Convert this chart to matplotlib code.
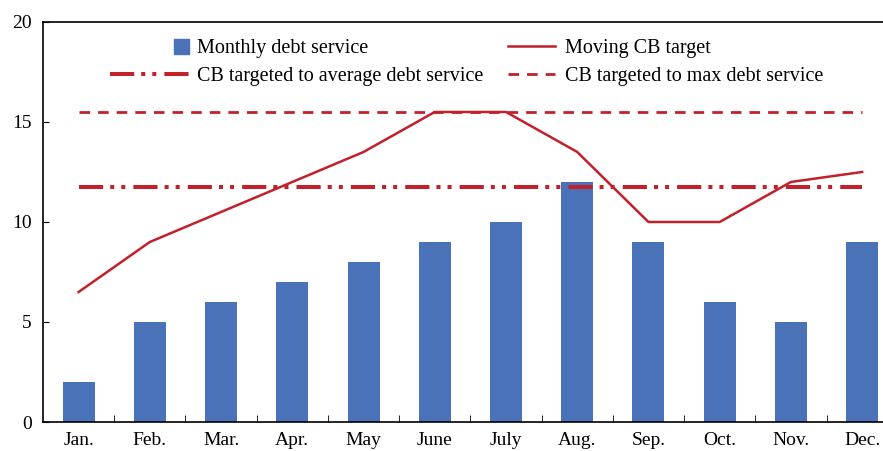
import numpy as np
import matplotlib
matplotlib.use("Agg")
import matplotlib.pyplot as plt
import matplotlib.patches as mpatches
from matplotlib.legend_handler import HandlerPatch

plt.rcParams['font.family'] = ['Liberation Serif', 'DejaVu Serif']

months = ['Jan.', 'Feb.', 'Mar.', 'Apr.', 'May', 'June', 'July', 'Aug.', 'Sep.', 'Oct.', 'Nov.', 'Dec.']
debt_service = [2, 5, 6, 7, 8, 9, 10, 12, 9, 6, 5, 9]
moving_target = [6.5, 9, 10.5, 12, 13.5, 15.5, 15.5, 13.5, 10, 10, 12, 12.5]
avg_target = [11.75] * 12
max_target = [15.5] * 12

blue = '#4a72b8'
red = '#c2202b'


def square_patch(legend, orig_handle, xdescent, ydescent, width, height, fontsize):
    # small square at the right end of the handle box, like the original
    s = height * 1.05
    return mpatches.Rectangle((-xdescent + width - s, -ydescent + (height - s) / 2), s, s)


fig = plt.figure(figsize=(8.83, 4.51), dpi=100)
ax = fig.add_axes([0.0487, 0.0643, 0.968, 0.887])

x = np.arange(len(months))
ax.bar(x, debt_service, width=0.45, color=blue, zorder=2)
l_avg, = ax.plot(x, avg_target, color=red, lw=2.9, dashes=[6, 1.75, 1, 1.75, 1, 2],
                 label='CB targeted to average debt service', zorder=3)
l_mov, = ax.plot(x, moving_target, color=red, lw=1.8, label='Moving CB target', zorder=4)
l_max, = ax.plot(x, max_target, color=red, lw=2, dashes=[3.8, 2.9],
                 label='CB targeted to max debt service', zorder=3)
bar_proxy = mpatches.Patch(color=blue, label='Monthly debt service')

ax.set_xlim(-0.5, 11.5)
ax.set_ylim(0, 20)
ax.set_yticks([0, 5, 10, 15, 20])
ax.set_xticks(x)
ax.set_xticklabels(months)
ax.set_xticks(np.arange(0.5, 11.5, 1), minor=True)
ax.tick_params(axis='x', which='major', length=0, labelsize=14, pad=7)
ax.tick_params(axis='x', which='minor', direction='in', length=5)
ax.tick_params(axis='y', direction='in', length=4, labelsize=14, pad=8)
ax.spines['right'].set_visible(False)
for s in ['left', 'bottom', 'top']:
    ax.spines[s].set_linewidth(1.2)

leg1 = ax.legend(handles=[bar_proxy, l_avg], frameon=False, fontsize=14.5,
                 loc='upper left', bbox_to_anchor=(110 / 883, 0.913), bbox_transform=fig.transFigure,
                 borderpad=0, borderaxespad=0, handlelength=3.9, handletextpad=0.4,
                 labelspacing=0.41, handler_map={bar_proxy: HandlerPatch(patch_func=square_patch)})
ax.add_artist(leg1)
ax.legend(handles=[l_mov, l_max], frameon=False, fontsize=14.5,
          loc='upper left', bbox_to_anchor=(508 / 883, 0.913), bbox_transform=fig.transFigure,
          borderpad=0, borderaxespad=0, handlelength=2.35, handletextpad=0.5,
          labelspacing=0.41)

fig.savefig('out.png', dpi=100)
